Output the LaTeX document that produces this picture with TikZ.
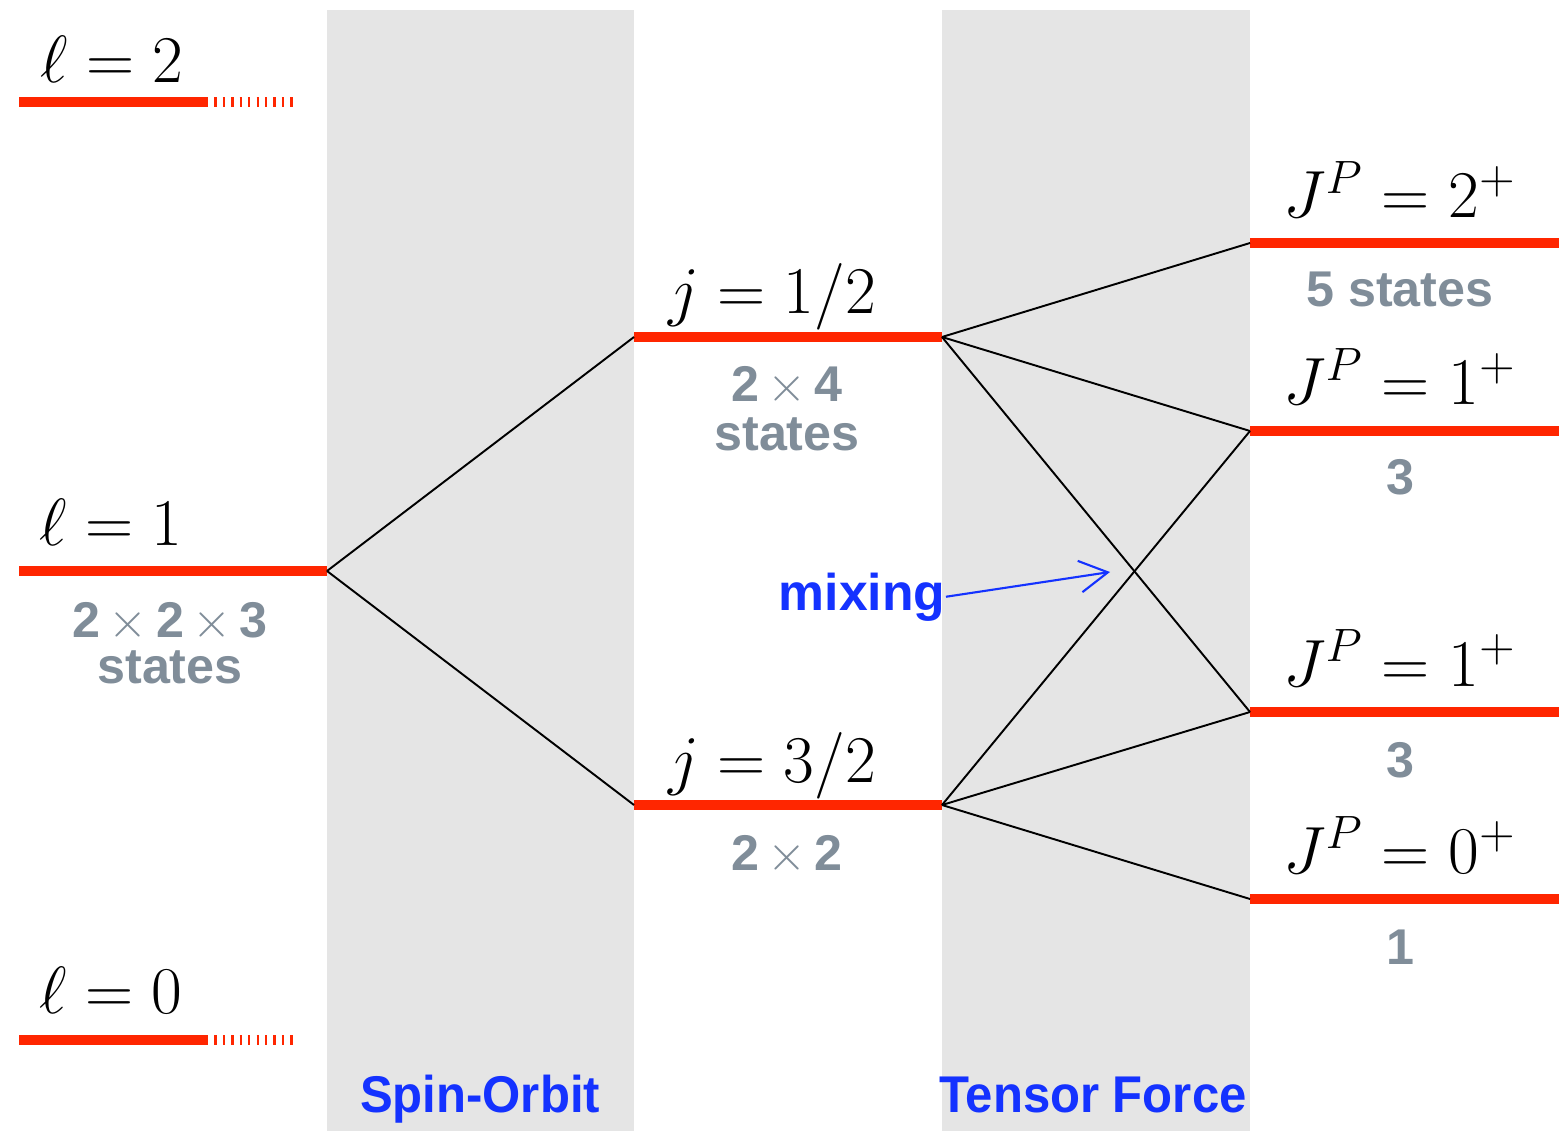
\RequirePackage{fix-cm}
\documentclass[tikz,border=0pt]{standalone}
\usepackage{fontspec}
\setsansfont{Liberation Sans}
\usetikzlibrary{arrows.meta}
\definecolor{levred}{RGB}{255,38,0}
\definecolor{bandgray}{RGB}{229,229,229}
\definecolor{cntgray}{RGB}{128,141,153}
\definecolor{lblblue}{RGB}{20,50,255}
\newcommand{\cx}{\,$\times$\,}

\begin{document}
\begin{tikzpicture}[lev/.style={draw=levred,line width=2.6pt}, levdot/.style={draw=levred,line width=2.6pt,dash pattern=on 0.65pt off 1.75pt},
  qnum/.style={anchor=base,inner sep=0pt,font=\fontsize{19}{21}\selectfont},
  cnt/.style={anchor=base,inner sep=0pt,text=cntgray,font=\sffamily\bfseries\fontsize{14.3}{16}\selectfont},
  tag/.style={anchor=base,inner sep=0pt,text=lblblue,font=\sffamily\bfseries\fontsize{14.7}{16}\selectfont},
  split/.style={black,line width=0.55pt}]
    \useasboundingbox (0,0) rectangle (15.59,11.31);
    % bands
    \fill[bandgray] (3.27,0) rectangle (6.34,11.21);
    \fill[bandgray] (9.42,0) rectangle (12.50,11.21);

    % levels
    \coordinate (l2a) at (0.19,10.29);  \coordinate (l2b) at (2.06,10.29);  \coordinate (l2c) at (2.93,10.29);
    \coordinate (l1a) at (0.19,5.60);   \coordinate (l1R) at (3.27,5.60);
    \coordinate (l0a) at (0.19,0.91);   \coordinate (l0b) at (2.06,0.91);   \coordinate (l0c) at (2.93,0.91);
    \coordinate (j1L) at (6.34,7.94);   \coordinate (j1R) at (9.42,7.94);
    \coordinate (j3L) at (6.34,3.26);   \coordinate (j3R) at (9.42,3.26);
    \coordinate (J2L) at (12.50,8.88);  \coordinate (J2R) at (15.59,8.88);
    \coordinate (J1aL) at (12.50,7.00); \coordinate (J1aR) at (15.59,7.00);
    \coordinate (J1bL) at (12.50,4.19); \coordinate (J1bR) at (15.59,4.19);
    \coordinate (J0L) at (12.50,2.32);  \coordinate (J0R) at (15.59,2.32);

    \draw[lev] (l2a) -- (l2b);  \draw[levdot] (l2b) -- (l2c);
    \draw[lev] (l1a) -- (l1R);
    \draw[lev] (l0a) -- (l0b);  \draw[levdot] (l0b) -- (l0c);
    \draw[lev] (j1L) -- (j1R);
    \draw[lev] (j3L) -- (j3R);
    \draw[lev] (J2L) -- (J2R);
    \draw[lev] (J1aL) -- (J1aR);
    \draw[lev] (J1bL) -- (J1bR);
    \draw[lev] (J0L) -- (J0R);

    % splittings
    \begin{scope}[split]
    \draw (l1R) -- (j1L);
    \draw (l1R) -- (j3L);
    \draw (j1R) -- (J2L);
    \draw (j1R) -- (J1aL);
    \draw (j1R) -- (J1bL);
    \draw (j3R) -- (J1aL);
    \draw (j3R) -- (J1bL);
    \draw (j3R) -- (J0L);
    \end{scope}

    % quantum numbers
    \node[qnum] (ql2) at (1.12,10.48) {$\ell = 2$};
    \node[qnum] (ql1) at (1.11,5.85) {$\ell = 1$};
    \node[qnum] (ql0) at (1.11,1.18) {$\ell = 0$};
    \node[qnum] (qj1) at (7.72,8.17) {$j = 1/2$};
    \node[qnum] (qj3) at (7.72,3.49) {$j = 3/2$};
    \node[qnum] (qJ2) at (14.00,9.13) {$J^P = 2^+$};
    \node[qnum] (qJ1a) at (14.00,7.26) {$J^P = 1^+$};
    \node[qnum] (qJ1b) at (14.00,4.45) {$J^P = 1^+$};
    \node[qnum] (qJ0) at (14.00,2.58) {$J^P = 0^+$};

    % state counts
    \node[cnt] (nl1) at (1.70,4.94) {2\cx2\cx3};
    \node[cnt] (nl1s) at (1.70,4.48) {states};
    \node[cnt] (nj1) at (7.87,7.29) {2\cx4};
    \node[cnt] (nj1s) at (7.87,6.80) {states};
    \node[cnt] (nj3) at (7.87,2.61) {2\cx2};
    \node[cnt] (nJ2) at (14.00,8.24) {5 states};
    \node[cnt] (nJ1a) at (14.00,6.36) {3};
    \node[cnt] (nJ1b) at (14.00,3.54) {3};
    \node[cnt] (nJ0) at (14.00,1.67) {1};

    % labels
    \node[tag] (mix) at (8.62,5.21) {mixing};
    \coordinate (mixtip) at (11.10,5.59);
    \draw[lblblue,line width=0.6pt,-{Straight Barb[length=8pt,width=9pt]}] (mix.east) -- (mixtip);
    \node[tag] (so) at (4.80,0.19) {\scalebox{0.95}[1]{Spin-Orbit}};
    \node[tag] (tf) at (10.93,0.19) {\scalebox{0.95}[1]{Tensor Force}};
\end{tikzpicture}
\end{document}
